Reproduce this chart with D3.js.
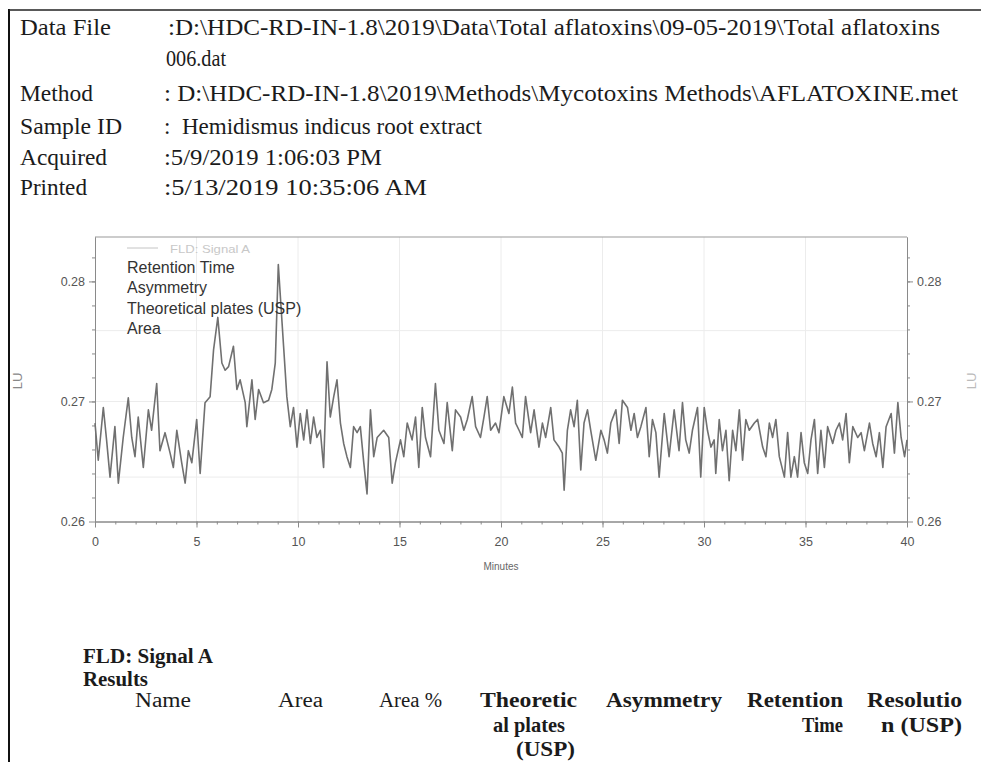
<!DOCTYPE html>
<html>
<head>
<meta charset="utf-8">
<script src="https://cdn.jsdelivr.net/npm/d3@7"></script>
<style>
  body { margin: 0; background: #fff; }
  text { white-space: pre; }
</style>
</head>
<body>
<div id="chart"></div>
<script>
// report header lines
var headerLabels = ["Data File", "", "Method", "Sample ID", "Acquired", "Printed"];
var headerValues = [
    ":D:\\HDC-RD-IN-1.8\\2019\\Data\\Total aflatoxins\\09-05-2019\\Total aflatoxins",
    "006.dat",
    ": D:\\HDC-RD-IN-1.8\\2019\\Methods\\Mycotoxins Methods\\AFLATOXINE.met",
    ":  Hemidismus indicus root extract",
    ":5/9/2019 1:06:03 PM",
    ":5/13/2019 10:35:06 AM"
];

// chromatogram (FLD: Signal A), minutes / LU
var times = [0.00,0.16,0.41,0.57,0.74,0.98,1.15,1.39,1.64,1.81,1.97,2.13,2.38,2.63,2.79,3.04,3.20,3.45,3.70,3.86,
    4.03,4.27,4.44,4.60,4.77,5.01,5.18,5.42,5.67,5.84,6.05,6.25,6.41,6.58,6.82,6.99,7.15,7.40,7.48,7.73,
    7.89,8.06,8.30,8.55,8.71,8.88,9.03,9.29,9.45,9.62,9.78,9.95,10.11,10.28,10.44,10.61,10.77,10.93,11.10,11.26,
    11.43,11.59,11.76,11.92,12.09,12.25,12.41,12.58,12.74,12.91,13.07,13.24,13.40,13.57,13.73,13.90,14.22,14.47,14.64,14.80,
    15.05,15.21,15.38,15.62,15.79,15.95,16.12,16.28,16.53,16.77,16.94,17.19,17.35,17.60,17.76,18.01,18.17,18.34,18.58,18.75,
    18.99,19.16,19.32,19.49,19.73,19.90,20.14,20.39,20.56,20.72,20.89,21.05,21.21,21.46,21.63,21.87,22.04,22.20,22.45,22.61,
    22.86,23.02,23.11,23.27,23.43,23.60,23.76,23.93,24.09,24.26,24.42,24.67,24.92,25.08,25.24,25.41,25.66,25.82,25.98,26.23,
    26.40,26.56,26.72,26.89,27.14,27.30,27.46,27.63,27.79,28.04,28.28,28.53,28.77,28.94,29.10,29.27,29.43,29.68,29.84,30.01,
    30.17,30.34,30.50,30.58,30.75,30.91,31.08,31.24,31.41,31.57,31.74,31.90,32.06,32.23,32.48,32.64,32.89,33.05,33.22,33.38,
    33.54,33.71,33.96,34.12,34.28,34.45,34.61,34.78,34.94,35.11,35.27,35.44,35.60,35.76,35.93,36.09,36.34,36.50,36.67,36.83,
    37.00,37.16,37.33,37.57,37.74,37.90,38.15,38.31,38.48,38.64,38.81,38.97,39.22,39.38,39.55,39.71,39.88,40.00];
var signal = [0.2682,0.2651,0.2695,0.2668,0.2637,0.2679,0.2632,0.2670,0.2703,0.2670,0.2654,0.2687,0.2645,0.2693,0.2676,0.2715,0.2659,0.2674,0.2657,0.2645,
    0.2676,0.2649,0.2632,0.2659,0.2649,0.2685,0.2640,0.2699,0.2704,0.2743,0.2770,0.2732,0.2726,0.2729,0.2746,0.2710,0.2718,0.2699,0.2679,0.2718,
    0.2685,0.2710,0.2699,0.2701,0.2710,0.2732,0.2814,0.2746,0.2704,0.2679,0.2695,0.2662,0.2690,0.2668,0.2693,0.2665,0.2687,0.2670,0.2676,0.2645,
    0.2733,0.2687,0.2704,0.2718,0.2682,0.2665,0.2654,0.2645,0.2679,0.2674,0.2679,0.2649,0.2623,0.2693,0.2654,0.2670,0.2676,0.2670,0.2632,0.2649,
    0.2668,0.2654,0.2682,0.2668,0.2687,0.2645,0.2695,0.2670,0.2654,0.2715,0.2676,0.2665,0.2699,0.2659,0.2693,0.2687,0.2676,0.2685,0.2704,0.2679,
    0.2670,0.2687,0.2704,0.2676,0.2682,0.2674,0.2704,0.2690,0.2712,0.2682,0.2676,0.2670,0.2704,0.2674,0.2693,0.2662,0.2682,0.2670,0.2695,0.2668,
    0.2662,0.2657,0.2626,0.2676,0.2693,0.2679,0.2701,0.2643,0.2682,0.2693,0.2676,0.2651,0.2676,0.2668,0.2657,0.2682,0.2693,0.2665,0.2701,0.2695,
    0.2676,0.2690,0.2670,0.2679,0.2695,0.2654,0.2685,0.2674,0.2637,0.2690,0.2654,0.2693,0.2659,0.2699,0.2668,0.2657,0.2676,0.2695,0.2637,0.2695,
    0.2676,0.2662,0.2668,0.2640,0.2685,0.2659,0.2676,0.2634,0.2676,0.2659,0.2693,0.2651,0.2685,0.2676,0.2682,0.2685,0.2662,0.2654,0.2682,0.2670,
    0.2685,0.2654,0.2637,0.2674,0.2637,0.2654,0.2637,0.2674,0.2649,0.2640,0.2668,0.2685,0.2640,0.2676,0.2645,0.2679,0.2665,0.2676,0.2682,0.2668,
    0.2690,0.2649,0.2679,0.2670,0.2674,0.2659,0.2682,0.2665,0.2654,0.2674,0.2645,0.2679,0.2690,0.2657,0.2699,0.2670,0.2654,0.2668];

var xTicks = [0, 5, 10, 15, 20, 25, 30, 35, 40];
var yTicks = [0.26, 0.27, 0.28];
var yGrid = [0.2637, 0.27, 0.2759];
var legendItems = ["Retention Time", "Asymmetry", "Theoretical plates (USP)", "Area"];

var tableTitle = ["FLD: Signal A", "Results"];
var tableHeads = [["Name"], ["Area"], ["Area %"], ["Theoretic", "al plates", "(USP)"],
    ["Asymmetry"], ["Retention", "Time"], ["Resolutio", "n (USP)"]];

var W = 981, H = 762;
var svg = d3.select("#chart").append("svg")
    .attr("width", W)
    .attr("height", H)
    .style("display", "block");

svg.append("rect").attr("width", W).attr("height", H).attr("fill", "#fff");

// scan border
svg.append("line").attr("x1", 9).attr("x2", 9).attr("y1", 9).attr("y2", H)
    .attr("stroke", "#111").attr("stroke-width", 2);
svg.append("line").attr("x1", 9).attr("x2", W).attr("y1", 10).attr("y2", 10)
    .attr("stroke", "#222").attr("stroke-width", 1.5);

// ---- header block ----
var headerY = [35, 66, 101, 134, 165, 195];
var labelW = [91, 0, 73, 102, 87, 67];
var valueX = [168, 166, 164, 164, 164, 164];
var valueW = [772, 60, 794, 318, 218, 263];

var head = svg.append("g")
    .attr("font-family", "'Liberation Serif', 'Times New Roman', serif")
    .attr("font-size", 23)
    .attr("fill", "#1b1b1b");

headerLabels.forEach(function (lab, i) {
    if (lab) {
        head.append("text").attr("x", 20).attr("y", headerY[i]).text(lab)
            .attr("textLength", labelW[i]).attr("lengthAdjust", "spacingAndGlyphs");
    }
    head.append("text").attr("x", valueX[i]).attr("y", headerY[i]).text(headerValues[i])
        .attr("textLength", valueW[i]).attr("lengthAdjust", "spacingAndGlyphs");
});

// ---- chromatogram ----
var pLeft = 95, pRight = 907, pTop = 237, pBottom = 521.5;
var x = d3.scaleLinear().domain([0, 40]).range([pLeft, pRight]);
var y = d3.scaleLinear().domain([0.26, 0.2837]).range([pBottom, pTop]);

var plot = svg.append("g");

// faint grid
plot.selectAll(".vgrid").data(xTicks.slice(1, -1)).enter().append("line")
    .attr("x1", function (d) { return x(d); })
    .attr("x2", function (d) { return x(d); })
    .attr("y1", pTop).attr("y2", pBottom)
    .attr("stroke", "#ececec");
plot.selectAll(".hgrid").data(yGrid).enter().append("line")
    .attr("x1", pLeft).attr("x2", pRight)
    .attr("y1", function (d) { return y(d); })
    .attr("y2", function (d) { return y(d); })
    .attr("stroke", "#ececec");

// frame top
plot.append("line").attr("x1", pLeft).attr("x2", pRight).attr("y1", pTop).attr("y2", pTop)
    .attr("stroke", "#999");

var styleAxis = function (g) {
    g.select(".domain").attr("stroke", "#8a8a8a");
    g.selectAll(".tick line").attr("stroke", "#8a8a8a");
    g.selectAll("text").attr("fill", "#555")
        .attr("font-family", "'Liberation Sans', Arial, sans-serif")
        .attr("font-size", 12.5);
};

var minorX = d3.range(0, 41, 1);
var minorY = d3.range(0.262, 0.2835, 0.002);

plot.append("g").attr("transform", "translate(0," + pBottom + ")")
    .call(d3.axisBottom(x).tickValues(minorX).tickSize(3).tickSizeOuter(0).tickFormat(""))
    .call(styleAxis);
plot.append("g").attr("transform", "translate(0," + pBottom + ")")
    .call(d3.axisBottom(x).tickValues(xTicks).tickSize(6).tickSizeOuter(0).tickPadding(10).tickFormat(d3.format("d")))
    .call(styleAxis);

[[pLeft, d3.axisLeft], [pRight, d3.axisRight]].forEach(function (s) {
    plot.append("g").attr("transform", "translate(" + s[0] + ",0)")
        .call(s[1](y).tickValues(minorY).tickSize(3).tickSizeOuter(0).tickFormat(""))
        .call(styleAxis);
    plot.append("g").attr("transform", "translate(" + s[0] + ",0)")
        .call(s[1](y).tickValues(yTicks).tickSize(6).tickSizeOuter(0).tickPadding(4).tickFormat(d3.format(".2f")))
        .call(styleAxis);
});

// axis titles
plot.append("text").attr("x", (pLeft + pRight) / 2).attr("y", 570)
    .attr("text-anchor", "middle")
    .attr("font-family", "'Liberation Sans', Arial, sans-serif")
    .attr("font-size", 10).attr("fill", "#666").text("Minutes");
[17, 971].forEach(function (px) {
    plot.append("text")
        .attr("transform", "translate(" + px + ",381) rotate(-90)")
        .attr("text-anchor", "middle").attr("dy", "0.35em")
        .attr("font-family", "'Liberation Sans', Arial, sans-serif")
        .attr("font-size", 13).attr("fill", px < 100 ? "#888" : "#bbb").text("LU");
});

// signal trace
var pts = times.map(function (t, i) { return [t, signal[i]]; });
var line = d3.line()
    .x(function (d) { return x(d[0]); })
    .y(function (d) { return y(d[1]); });

plot.append("path").datum(pts)
    .attr("d", line)
    .attr("fill", "none")
    .attr("stroke", "#707070")
    .attr("stroke-width", 1.6)
    .attr("stroke-linejoin", "round");

// legend
plot.append("line").attr("x1", 127).attr("x2", 158).attr("y1", 248).attr("y2", 248)
    .attr("stroke", "#c4c4c4");
plot.append("text").attr("x", 170).attr("y", 253)
    .attr("font-family", "'Liberation Sans', Arial, sans-serif")
    .attr("font-size", 11).attr("fill", "#c8c8c8")
    .attr("textLength", 80).attr("lengthAdjust", "spacingAndGlyphs")
    .text("FLD: Signal A");

plot.selectAll(".leg").data(legendItems).enter().append("text")
    .attr("x", 127)
    .attr("y", function (d, i) { return 273 + i * 20.3; })
    .attr("font-family", "'Liberation Sans', Arial, sans-serif")
    .attr("font-size", 16).attr("fill", "#333")
    .text(function (d) { return d; });

// ---- results table ----
var tbl = svg.append("g")
    .attr("font-family", "'Liberation Serif', 'Times New Roman', serif")
    .attr("font-size", 20)
    .attr("fill", "#1b1b1b");

var titleW = [130, 65];
tableTitle.forEach(function (t, i) {
    tbl.append("text").attr("x", 83).attr("y", 663 + i * 23)
        .attr("font-weight", "bold")
        .attr("textLength", titleW[i]).attr("lengthAdjust", "spacingAndGlyphs")
        .text(t);
});

// column header positions: start x and width of each line
var colLayout = [
    {bold: false, lines: [[135, 56]]},
    {bold: false, lines: [[278, 45]]},
    {bold: false, lines: [[379, 63]]},
    {bold: true, lines: [[480, 97], [493, 72], [516, 59]]},
    {bold: true, lines: [[606, 116]]},
    {bold: true, lines: [[747, 96], [802, 41]]},
    {bold: true, lines: [[867, 95], [881, 81]]}
];

tableHeads.forEach(function (col, c) {
    col.forEach(function (t, r) {
        var l = colLayout[c].lines[r];
        tbl.append("text").attr("x", l[0]).attr("y", 707 + r * 24.5)
            .attr("font-weight", colLayout[c].bold ? "bold" : "normal")
            .attr("textLength", l[1]).attr("lengthAdjust", "spacingAndGlyphs")
            .text(t);
    });
});
</script>
</body>
</html>
